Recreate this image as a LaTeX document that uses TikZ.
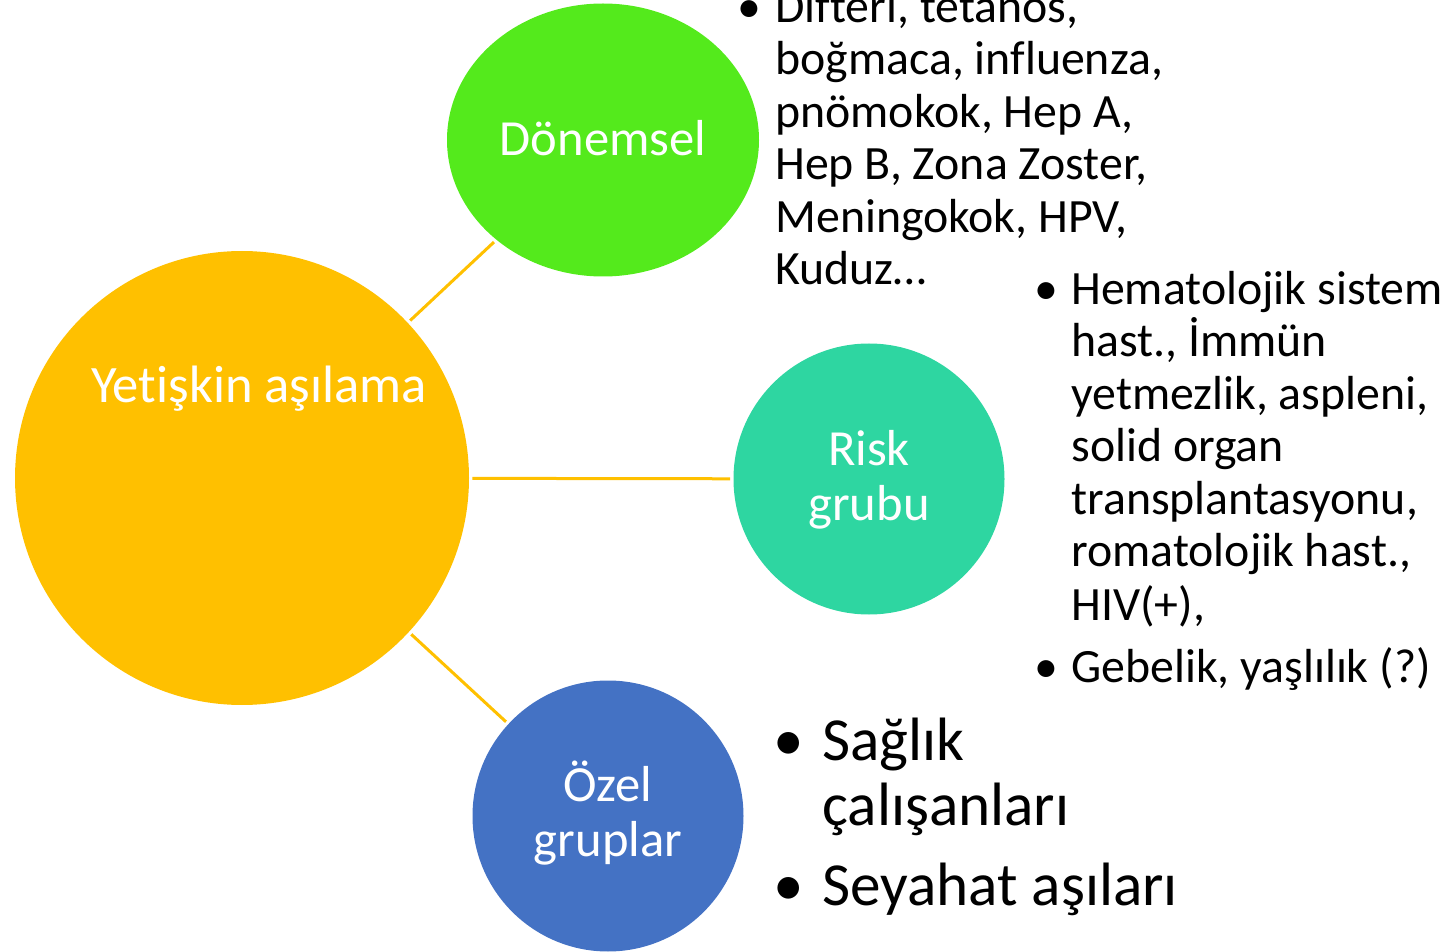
\documentclass[tikz,border=0pt]{standalone}
\usepackage{fontspec}
\setmainfont{Carlito}[Ligatures={NoCommon,NoRequired,NoContextual}]
\usetikzlibrary{shapes.geometric}

\definecolor{cYellow}{RGB}{255,192,0}
\definecolor{cGreen}{RGB}{84,234,28}
\definecolor{cTeal}{RGB}{46,214,161}
\definecolor{cBlue}{RGB}{68,114,196}

\tikzset{
  bubble/.style={circle, inner sep=0pt, draw=none},
  link/.style={draw=cYellow, line width=1.5pt, shorten <=1.5pt, shorten >=1.5pt},
  intext/.style={text=white, font=\fontsize{25.3}{27}\selectfont, inner sep=0pt, anchor=base},
  lst/.style={font=\fontsize{23.9}{26}\selectfont, inner sep=0pt, anchor=base west},
  big/.style={font=\fontsize{30.6}{32}\selectfont, inner sep=0pt, anchor=base west},
}

\begin{document}
\begin{tikzpicture}[x=0.5pt, y=-0.5pt]
\useasboundingbox (0,0) rectangle (1453,952);

% bubbles
\node[bubble, fill=cYellow, minimum size=227pt] (Y) at (242,478) {};
\node[ellipse, inner sep=0pt, fill=cGreen, minimum width=156pt, minimum height=136.5pt] (G) at (603,140) {};
\node[bubble, fill=cTeal, minimum size=135.5pt] (R) at (869,479) {};
\node[bubble, fill=cBlue, minimum size=135.5pt] (B) at (608,816) {};

% connectors
\draw[link] (Y) -- (G);
\draw[link] (Y) -- (R);
\draw[link] (Y) -- (B);

% bubble labels
\node[intext, font=\fontsize{26.3}{27}\selectfont] (tY) at (259,403) {Yetişkin aşılama};
\node[intext] (tG) at (603,156) {Dönemsel};
\node[intext] (tR1) at (869,466) {Risk};
\node[intext] (tR2) at (869,521) {grubu};
\node[intext] (tB1) at (608,801) {Özel};
\node[intext] (tB2) at (608,856) {gruplar};

% periodic vaccines
\node[lst, anchor=base] (dB) at (749,22.5) {•};
\node[lst] (d1) at (775,22.5) {Difteri, tetanos,};
\node[lst] (d2) at (775,75) {boğmaca, influenza,};
\node[lst] (d3) at (775,127.5) {pnömokok, Hep A,};
\node[lst] (d4) at (775,180) {Hep B, Zona Zoster,};
\node[lst] (d5) at (775,232.5) {Meningokok, HPV,};
\node[lst] (d6) at (775,285) {Kuduz…};

% risk groups
\node[lst, anchor=base] (rB1) at (1046,305) {•};
\node[lst] (r1) at (1071,305) {Hematolojik sistem};
\node[lst] (r2) at (1071,357) {hast., İmmün};
\node[lst] (r3) at (1071,410) {yetmezlik, aspleni,};
\node[lst] (r4) at (1071,462) {solid organ};
\node[lst] (r5) at (1071,515) {transplantasyonu,};
\node[lst] (r6) at (1071,567) {romatolojik hast.,};
\node[lst] (r7) at (1071,620) {HIV(+),};
\node[lst, anchor=base] (rB2) at (1046,682) {•};
\node[lst] (r8) at (1071,682) {Gebelik, yaşlılık (?)};

% special groups
\node[big, anchor=base] (sB1) at (789,760) {•};
\node[big] (s1) at (822,760) {Sağlık};
\node[big] (s2) at (822,825) {çalışanları};
\node[big, anchor=base] (sB2) at (789,905) {•};
\node[big] (s3) at (822,905) {Seyahat aşıları};
\end{tikzpicture}
\end{document}
